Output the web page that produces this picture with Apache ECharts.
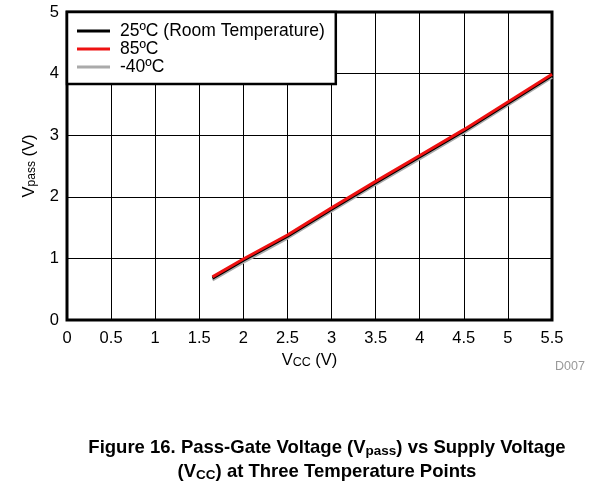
<!DOCTYPE html>
<html>
<head>
<meta charset="utf-8">
<script src="https://cdn.jsdelivr.net/npm/echarts@6/dist/echarts.min.js"></script>
<style>html,body{margin:0;padding:0;background:#fff}#c{width:592px;height:491px}</style>
</head>
<body>
<div id="c"></div>
<script>
const vcc = [1.65, 2, 2.5, 3, 3.5, 4, 4.5, 5, 5.5];
const vpass25 = [0.68, 0.97, 1.36, 1.80, 2.23, 2.65, 3.07, 3.52, 3.97];
const vpass85 = [0.70, 0.99, 1.38, 1.82, 2.25, 2.67, 3.09, 3.54, 3.99];
const vpassM40 = [0.65, 0.94, 1.33, 1.77, 2.20, 2.62, 3.04, 3.49, 3.94];
const seriesNames = ['25ºC (Room Temperature)', '85ºC', '-40ºC'];
const xTicks = [0, 0.5, 1, 1.5, 2, 2.5, 3, 3.5, 4, 4.5, 5, 5.5];
const yTicks = [0, 1, 2, 3, 4, 5];

const font = '"Liberation Sans", Arial, sans-serif';
const pairs = ys => vcc.map((x, i) => [x, ys[i]]);

const chart = echarts.init(document.getElementById('c'));
chart.setOption({
  animation: false,
  backgroundColor: '#fff',
  textStyle: { fontFamily: font },
  grid: { left: 67, right: 40, top: 12, bottom: 171, show: true, borderColor: '#000', borderWidth: 3, backgroundColor: 'transparent' },
  legend: {
    data: seriesNames,
    orient: 'vertical',
    left: 67, top: 12,
    backgroundColor: '#fff',
    borderColor: '#000', borderWidth: 2.5,
    borderRadius: 0,
    padding: [10, 11, 8, 10],
    icon: 'rect',
    itemWidth: 33, itemHeight: 3, itemGap: 0,
    textStyle: { fontFamily: font, fontSize: 17.5, lineHeight: 18, color: '#000', padding: [0, 0, 0, 5] },
    z: 10
  },
  xAxis: {
    type: 'value', min: xTicks[0], max: xTicks[xTicks.length - 1], interval: 0.5,
    axisLine: { show: false }, axisTick: { show: false },
    splitLine: { show: true, lineStyle: { color: '#000', width: 1 } },
    axisLabel: { color: '#000', fontSize: 16.5, fontFamily: font, margin: 10 },
    name: '{v|V}{s|CC}{v| (V)}', nameLocation: 'middle', nameGap: 26,
    nameTextStyle: { rich: { v: { fontSize: 16.5, color: '#000', fontFamily: font }, s: { fontSize: 12.5, color: '#000', fontFamily: font, padding: [4, 0, 0, 0] } } }
  },
  yAxis: {
    type: 'value', min: yTicks[0], max: yTicks[yTicks.length - 1], interval: 1,
    axisLine: { show: false }, axisTick: { show: false },
    splitLine: { show: true, lineStyle: { color: '#000', width: 1 } },
    axisLabel: { color: '#000', fontSize: 16.5, fontFamily: font, margin: 8 },
    name: '{v|V}{s|pass}{v| (V)}', nameLocation: 'middle', nameGap: 29,
    nameTextStyle: { rich: { v: { fontSize: 16.5, color: '#000', fontFamily: font }, s: { fontSize: 12, color: '#000', fontFamily: font, padding: [5, 0, 0, 0] } } }
  },
  series: [
    { name: seriesNames[2], type: 'line', data: pairs(vpassM40), symbol: 'none', lineStyle: { color: '#aaaaaa', width: 3 }, itemStyle: { color: '#aaaaaa' }, z: 2 },
    { name: seriesNames[0], type: 'line', data: pairs(vpass25), symbol: 'none', lineStyle: { color: '#000', width: 3 }, itemStyle: { color: '#000' }, z: 3 },
    { name: seriesNames[1], type: 'line', data: pairs(vpass85), symbol: 'none', lineStyle: { color: '#ee1111', width: 3 }, itemStyle: { color: '#ee1111' }, z: 4 }
  ],
  graphic: [
    { type: 'text', left: 555, top: 360, style: { text: 'D007', fill: '#999', fontSize: 12.5, fontFamily: font } },
    { type: 'text', x: 327, y: 448, style: { text: 'Figure 16. Pass-Gate Voltage (V{s|pass}) vs Supply Voltage', align: 'center', verticalAlign: 'middle', fill: '#000', fontSize: 18.5, fontWeight: 'bold', fontFamily: font,
      rich: { s: { fontSize: 13.5, fontWeight: 'bold', fill: '#000', fontFamily: font, padding: [7, 0, 0, 0] } } } },
    { type: 'text', x: 327, y: 472, style: { text: '(V{s|CC}) at Three Temperature Points', align: 'center', verticalAlign: 'middle', fill: '#000', fontSize: 18.5, fontWeight: 'bold', fontFamily: font,
      rich: { s: { fontSize: 13.5, fontWeight: 'bold', fill: '#000', fontFamily: font, padding: [7, 0, 0, 0] } } } }
  ]
});
</script>
</body>
</html>
